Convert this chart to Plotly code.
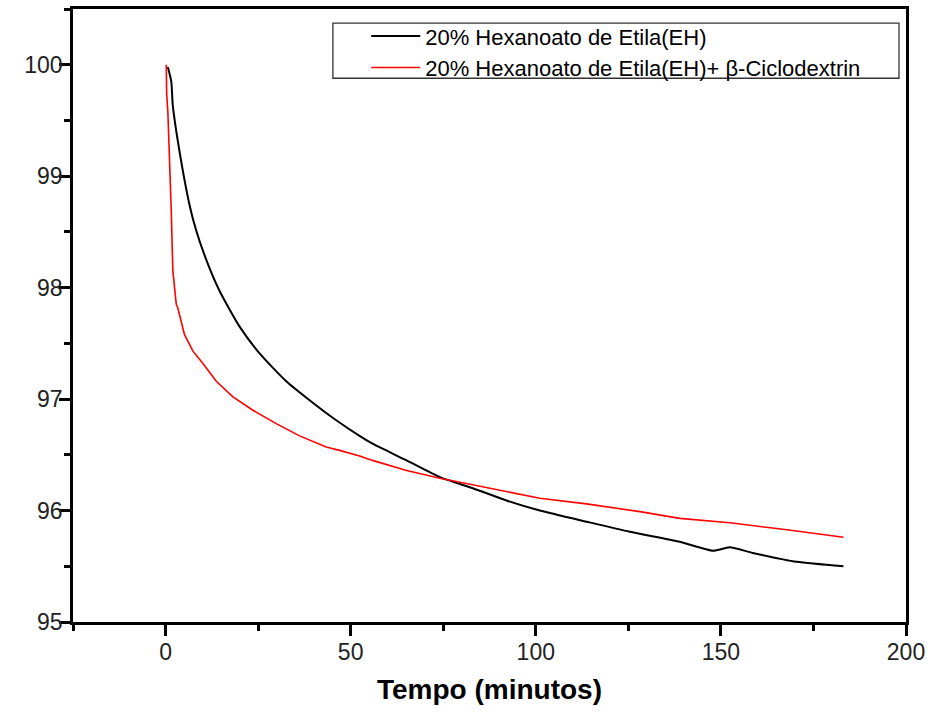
import plotly.graph_objects as go

# Series 1: 20% Hexanoato de Etila(EH)
eh_t = [0.62, 1.54, 1.97, 3.78, 6.49, 8.3, 11.0, 14.6, 20.0, 25.4, 32.6, 38.9,
        46.1, 52.4, 55.9, 65.1, 74.1, 83.0, 92.1, 101.1, 113.7, 125.4, 138.9, 147.9,
        152.4, 158.6, 170.5, 183.1]
eh_y = [99.98, 99.85, 99.63, 99.22, 98.74, 98.51, 98.25, 97.97, 97.65, 97.41,
        97.16, 96.99, 96.81, 96.67, 96.60, 96.45, 96.30, 96.20, 96.09, 96.00, 95.90,
        95.81, 95.72, 95.64, 95.67, 95.62, 95.54, 95.50]

# Series 2: 20% Hexanoato de Etila(EH)+ β-Ciclodextrin
cd_t = [0.19, 0.3, 0.62, 1.08, 1.54, 1.97, 2.9, 3.3, 5.1, 7.4, 10.1, 13.7, 18.2, 23.6,
        29.9, 36.2, 43.4, 47.0, 52.4, 55.9, 65.1, 74.1, 83.0, 92.1, 101.1, 113.7,
        128.1, 138.9, 152.4, 167.3, 183.1]
cd_y = [100.0, 99.74, 99.58, 99.16, 98.69, 98.15, 97.85, 97.82, 97.58, 97.43, 97.32,
        97.16, 97.02, 96.90, 96.78, 96.67, 96.57, 96.54, 96.49, 96.45, 96.36, 96.29,
        96.23, 96.17, 96.11, 96.06, 95.99, 95.93, 95.89, 95.83, 95.76]

x_ticks = [0, 50, 100, 150, 200]
y_ticks = [95, 96, 97, 98, 99, 100]
series_names = ["20% Hexanoato de Etila(EH)", "20% Hexanoato de Etila(EH)+ β-Ciclodextrin"]
x_title = "Tempo (minutos)"

FONT = "Arial, Liberation Sans, sans-serif"

fig = go.Figure()
fig.add_trace(go.Scatter(x=eh_t, y=eh_y, mode="lines", name=series_names[0],
                         line=dict(color="black", width=2, shape="spline", smoothing=0.6)))
fig.add_trace(go.Scatter(x=cd_t, y=cd_y, mode="lines", name=series_names[1],
                         line=dict(color="#ff0000", width=1.6)))

axis_common = dict(
    showgrid=False, zeroline=False, showline=True, linecolor="black", linewidth=2.5,
    mirror=True, ticks="outside", tickcolor="black", tickwidth=2.5, ticklen=11,
    tickfont=dict(family=FONT, size=23, color="#222"), automargin=False,
)

fig.update_xaxes(range=[-25, 200], tickvals=x_ticks, ticklabelstandoff=-3,
                 minor=dict(dtick=25, tick0=0, ticks="outside", ticklen=6, tickwidth=2.5, tickcolor="black"),
                 title=dict(text=x_title, font=dict(family=FONT, size=28, color="black", weight="bold"), standoff=16),
                 **axis_common)
fig.update_yaxes(range=[95, 100.5], tickvals=y_ticks, ticklabelstandoff=-8,
                 minor=dict(dtick=0.5, tick0=95, ticks="outside", ticklen=6, tickwidth=2.5, tickcolor="black"),
                 **axis_common)

# legend frame
fig.add_shape(type="rect", xref="paper", yref="paper",
              x0=0.312, x1=0.9916, y0=0.887, y1=0.977,
              line=dict(color="#333", width=1.3), fillcolor="rgba(0,0,0,0)", layer="above")

fig.update_layout(
    width=928, height=718,
    margin=dict(l=73, r=22, t=9, b=96),
    paper_bgcolor="white", plot_bgcolor="white",
    showlegend=True,
    legend=dict(x=0.352, y=0.99, xanchor="left", yanchor="top",
                font=dict(family=FONT, size=22, color="black"),
                bgcolor="rgba(0,0,0,0)", borderwidth=0, itemwidth=49,
                tracegroupgap=0),
)

# remove the browser's default 8px body margin so the 928x718 figure fills the window exactly
fig.write_html("out.html", config={"displayModeBar": False},
               post_script="document.body.style.margin='0';document.body.style.overflow='hidden';")
